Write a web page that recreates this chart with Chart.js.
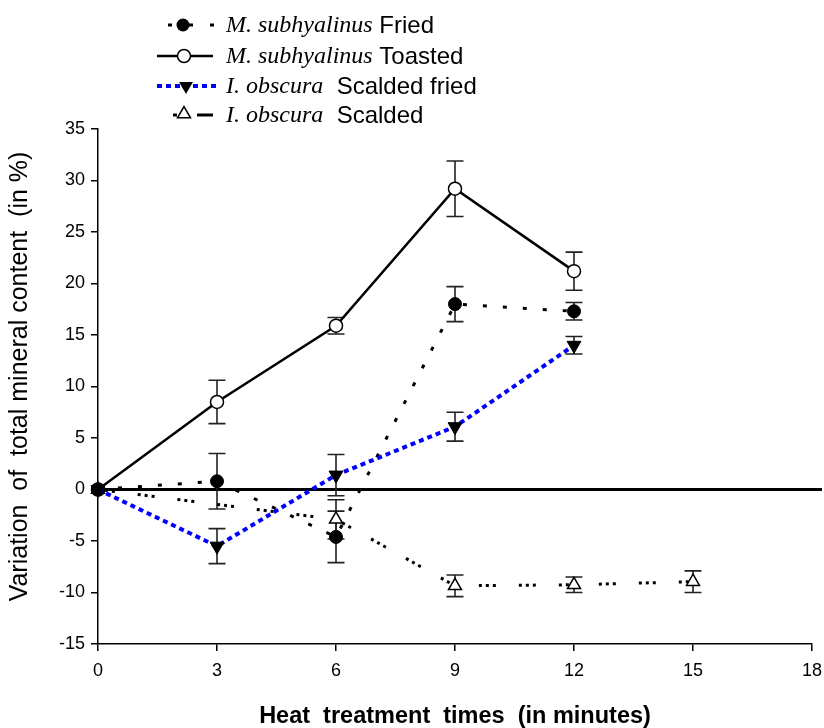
<!DOCTYPE html>
<html><head><meta charset="utf-8">
<script src="https://cdn.jsdelivr.net/npm/chart.js@4.4.1/dist/chart.umd.min.js"></script>
<style>html,body{margin:0;padding:0;background:#fff;} #wrap{width:824px;height:728px;position:relative;}</style>
</head><body><div id="wrap"><canvas id="c" width="824" height="728"></canvas></div>
<script>
// ---- data ----
const timesMs = [0, 3, 6, 9, 12];
const timesScaldedFried = [0, 3, 6, 9, 12];
const timesScalded = [0, 6, 9, 12, 15];
const friedValues = [0, 0.8, -4.6, 18.0, 17.3];
const friedErrors = [0, 2.7, 2.5, 1.7, 0.85];
const toastedValues = [0, 8.5, 15.9, 29.2, 21.2];
const toastedErrors = [0, 2.1, 0.8, 2.7, 1.85];
const scaldedFriedValues = [0, -5.5, 1.4, 6.1, 14.0];
const scaldedFriedErrors = [0, 1.7, 2.0, 1.4, 0.85];
const scaldedValues = [0, -2.9, -9.35, -9.25, -8.95];
const scaldedErrors = [0, 1.9, 1.05, 0.75, 1.05];
const xTickValues = [0, 3, 6, 9, 12, 15, 18];
const yTickValues = [-15, -10, -5, 0, 5, 10, 15, 20, 25, 30, 35];
const speciesNames = ['M. subhyalinus', 'M. subhyalinus', 'I. obscura', 'I. obscura'];
const treatmentNames = [' Fried', ' Toasted', '  Scalded fried', '  Scalded'];
const xTitle = 'Heat  treatment  times  (in minutes)';
const yTitle = 'Variation  of  total mineral content  (in %)';

const toPts = (xs, ys) => xs.map((x, i) => ({x: x, y: ys[i]}));
const SANS = '"Liberation Sans", Arial, sans-serif';
const SERIF = '"Liberation Serif", "Times New Roman", serif';

const datasets = [
  {label: treatmentNames[2].trim(), data: toPts(timesScaldedFried, scaldedFriedValues), errors: scaldedFriedErrors,
   borderColor: '#0000ff', borderWidth: 4, borderDash: [5, 4], pointStyle: 'triangle', rotation: 180,
   pointRadius: 8, pointBackgroundColor: '#000', pointBorderColor: '#000', pointBorderWidth: 1},
  {label: treatmentNames[0].trim(), data: toPts(timesMs, friedValues), errors: friedErrors,
   borderColor: '#000', borderWidth: 3, borderDash: [4, 16], pointStyle: 'circle',
   pointRadius: 6.5, pointBackgroundColor: '#000', pointBorderColor: '#000', pointBorderWidth: 1},
  {label: treatmentNames[3].trim(), data: toPts(timesScalded, scaldedValues), errors: scaldedErrors,
   borderColor: '#000', borderWidth: 3, borderDash: [3, 4, 3, 4, 3, 23], pointStyle: 'triangle',
   pointRadius: 7.5, pointBackgroundColor: '#fff', pointBorderColor: '#000', pointBorderWidth: 1.5},
  {label: treatmentNames[1].trim(), data: toPts(timesMs, toastedValues), errors: toastedErrors,
   borderColor: '#000', borderWidth: 2.5, pointStyle: 'circle',
   pointRadius: 6.5, pointBackgroundColor: '#fff', pointBorderColor: '#000', pointBorderWidth: 1.5}
];
datasets.forEach(d => { d.showLine = true; d.tension = 0; d.clip = false; d.fill = false; d.borderCapStyle = 'butt'; });

const zeroLine = {
  id: 'zeroLine',
  beforeDatasetsDraw(chart) {
    const {ctx, chartArea, scales} = chart;
    const y = scales.y.getPixelForValue(0);
    ctx.save();
    ctx.strokeStyle = '#000'; ctx.lineWidth = 3;
    ctx.beginPath(); ctx.moveTo(chartArea.left, y); ctx.lineTo(chartArea.right + 10, y); ctx.stroke();
    ctx.restore();
  }
};

const errorBars = {
  id: 'errorBars',
  beforeDatasetsDraw(chart) {
    const {ctx, scales} = chart;
    ctx.save();
    ctx.strokeStyle = '#222'; ctx.lineWidth = 1.6;
    chart.data.datasets.forEach(ds => {
      ds.data.forEach((p, i) => {
        const e = ds.errors[i];
        if (!e) return;
        const x = scales.x.getPixelForValue(p.x);
        const yt = scales.y.getPixelForValue(p.y + e);
        const yb = scales.y.getPixelForValue(p.y - e);
        ctx.beginPath();
        ctx.moveTo(x, yt); ctx.lineTo(x, yb);
        ctx.moveTo(x - 8.5, yt); ctx.lineTo(x + 8.5, yt);
        ctx.moveTo(x - 8.5, yb); ctx.lineTo(x + 8.5, yb);
        ctx.stroke();
      });
    });
    ctx.restore();
  }
};

const yTitlePlugin = {
  id: 'yTitle',
  afterDraw(chart) {
    const ctx = chart.ctx;
    const a = chart.chartArea;
    ctx.save();
    ctx.translate(20, (a.top + a.bottom) / 2 - 10);
    ctx.rotate(-Math.PI / 2);
    ctx.font = '25px ' + SANS;
    ctx.fillStyle = '#000';
    ctx.textAlign = 'center';
    ctx.textBaseline = 'middle';
    ctx.fillText(yTitle, 0, 0);
    ctx.restore();
  }
};

function tri(ctx, x, y, r, down) {
  const s = down ? -1 : 1;
  ctx.beginPath();
  ctx.moveTo(x, y - s * r);
  ctx.lineTo(x + r * Math.cos(Math.PI / 6), y + s * r * 0.5);
  ctx.lineTo(x - r * Math.cos(Math.PI / 6), y + s * r * 0.5);
  ctx.closePath();
}

const legendPlugin = {
  id: 'customLegend',
  afterDraw(chart) {
    const ctx = chart.ctx;
    const rows = [25, 56, 86, 115];
    ctx.save();
    // row 1: fried
    let y = rows[0];
    ctx.fillStyle = '#000';
    ctx.fillRect(168, y - 1.5, 4, 3);
    ctx.fillRect(188, y - 1.5, 5, 3);
    ctx.fillRect(210, y - 1.5, 4, 3);
    ctx.beginPath(); ctx.arc(183, y, 6.5, 0, Math.PI * 2); ctx.fill();
    // row 2: toasted
    y = rows[1];
    ctx.strokeStyle = '#000'; ctx.lineWidth = 2.5;
    ctx.beginPath(); ctx.moveTo(157, y); ctx.lineTo(213, y); ctx.stroke();
    ctx.beginPath(); ctx.arc(184, y, 6.5, 0, Math.PI * 2);
    ctx.fillStyle = '#fff'; ctx.fill(); ctx.lineWidth = 1.5; ctx.stroke();
    // row 3: scalded fried
    y = rows[2];
    ctx.strokeStyle = '#0000ff'; ctx.lineWidth = 4; ctx.setLineDash([5, 4]);
    ctx.beginPath(); ctx.moveTo(157, y); ctx.lineTo(216, y); ctx.stroke();
    ctx.setLineDash([]);
    tri(ctx, 186, y, 8, true); ctx.fillStyle = '#000'; ctx.fill();
    // row 4: scalded
    y = rows[3];
    ctx.fillStyle = '#000';
    ctx.fillRect(173, y - 1.5, 4, 3);
    ctx.strokeStyle = '#000'; ctx.lineWidth = 3;
    ctx.beginPath(); ctx.moveTo(197, y); ctx.lineTo(213, y); ctx.stroke();
    tri(ctx, 184, y - 1, 7.5, false); ctx.fillStyle = '#fff'; ctx.fill(); ctx.lineWidth = 1.5; ctx.stroke();
    // texts
    ctx.textBaseline = 'middle';
    ctx.fillStyle = '#000';
    rows.forEach((ry, i) => {
      ctx.font = 'italic 24px ' + SERIF;
      ctx.fillText(speciesNames[i], 226, ry + 1);
      const w = ctx.measureText(speciesNames[i]).width;
      ctx.font = '24px ' + SANS;
      ctx.fillText(treatmentNames[i], 226 + w, ry + 1);
    });
    ctx.restore();
  }
};

new Chart(document.getElementById('c'), {
  type: 'scatter',
  data: {datasets: datasets},
  plugins: [zeroLine, errorBars, legendPlugin, yTitlePlugin],
  options: {
    responsive: false,
    animation: false,
    events: [],
    layout: {padding: {top: 129, right: 12, left: 0, bottom: 0}},
    plugins: {legend: {display: false}, tooltip: {enabled: false}, title: {display: false}},
    scales: {
      x: {
        type: 'linear', min: 0, max: 18,
        afterBuildTicks: s => { s.ticks = xTickValues.map(v => ({value: v})); },
        afterFit: s => { s.height = 84; s.paddingRight = 0; s.paddingLeft = 0; },
        ticks: {font: {family: SANS, size: 18}, color: '#000', padding: 9},
        grid: {drawOnChartArea: false, color: '#000', tickLength: 7, lineWidth: 1.5},
        border: {color: '#000', width: 1.5},
        title: {display: true, text: xTitle, color: '#000', font: {family: SANS, size: 23.5, weight: 'bold', lineHeight: 1}, padding: 0}
      },
      y: {
        type: 'linear', min: -15, max: 35,
        afterBuildTicks: s => { s.ticks = yTickValues.map(v => ({value: v})); },
        afterFit: s => { s.width = 98; s.paddingTop = 0; s.paddingBottom = 0; },
        ticks: {font: {family: SANS, size: 18}, color: '#000', padding: 6},
        grid: {drawOnChartArea: false, color: '#000', tickLength: 7, lineWidth: 1.5},
        border: {color: '#000', width: 1.5},
        title: {display: false}
      }
    }
  }
});
</script></body></html>
